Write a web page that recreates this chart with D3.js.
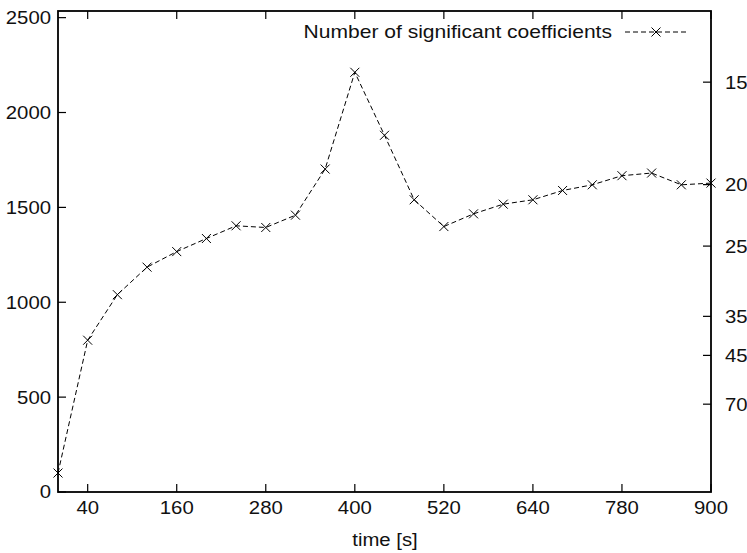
<!DOCTYPE html>
<html>
<head>
<meta charset="utf-8">
<script src="https://cdn.jsdelivr.net/npm/d3@7"></script>
<style>
  html, body { margin: 0; padding: 0; background: #fff; }
  svg { display: block; font-family: "Liberation Sans", Arial, Helvetica, sans-serif; }
</style>
</head>
<body>
<svg id="chart" width="747" height="553"></svg>
<script>
// ---- data ----
const times = [0, 40, 80, 120, 160, 200, 240, 280, 320, 360, 400, 440, 480, 520, 560, 600, 640, 680, 720, 760, 800, 840, 880];
const values = [100, 800, 1040, 1185, 1267, 1336, 1403, 1394, 1459, 1702, 2212, 1880, 1540, 1399, 1466, 1517, 1540, 1589, 1619, 1667, 1681, 1619, 1628];
const xTickValues = [40, 160, 280, 400, 520, 640, 760, 880];
const xTickLabels = ["40", "160", "280", "400", "520", "640", "780", "900"];
const yTickValues = [0, 500, 1000, 1500, 2000, 2500];
const rightTickLabels = [15, 20, 25, 35, 45, 70];
const rightK = 32400; // right axis label = rightK / left value
const seriesName = "Number of significant coefficients";
const xTitle = "time [s]";

(function () {
// ---- layout ----
const mLeft = 58, mRight = 711, mTop = 11, mBottom = 492;
const svg = d3.select("#chart");

const x = d3.scaleLinear().domain([0, 880]).range([mLeft, mRight]);
const y = d3.scaleLinear().domain([0, 2535]).range([mBottom, mTop]);

const fs = 18;
const sx = 1.13;
const tickLen = 8;

function addText(g, px, py, str, anchor, dy, scale) {
  return g.append("text")
    .attr("transform", `translate(${px},${py}) scale(${scale || sx},1)`)
    .attr("x", 0).attr("y", 0).attr("dy", dy || 0)
    .attr("text-anchor", anchor).attr("font-size", fs).attr("fill", "#111")
    .text(str);
}

// frame
svg.append("rect")
  .attr("x", mLeft).attr("y", mTop)
  .attr("width", mRight - mLeft).attr("height", mBottom - mTop)
  .attr("fill", "none").attr("stroke", "#000").attr("stroke-width", 1.8);

// bottom axis ticks (inward) + mirrored top
const xg = svg.append("g");
xTickValues.forEach((t, i) => {
  const px = x(t);
  xg.append("line").attr("x1", px).attr("x2", px).attr("y1", mBottom).attr("y2", mBottom - tickLen)
    .attr("stroke", "#000").attr("stroke-width", 1.2);
  xg.append("line").attr("x1", px).attr("x2", px).attr("y1", mTop).attr("y2", mTop + tickLen)
    .attr("stroke", "#000").attr("stroke-width", 1.2);
  addText(xg, px, mBottom + 22, xTickLabels[i], "middle");
});

// left axis
const yg = svg.append("g");
yTickValues.forEach(v => {
  const py = y(v);
  yg.append("line").attr("x1", mLeft).attr("x2", mLeft + tickLen).attr("y1", py).attr("y2", py)
    .attr("stroke", "#000").attr("stroke-width", 1.2);
  addText(yg, mLeft - 7, py, String(v), "end", "0.36em");
});

// right axis (reciprocal labels)
const rg = svg.append("g");
rightTickLabels.forEach(v => {
  const py = y(rightK / v);
  rg.append("line").attr("x1", mRight).attr("x2", mRight - tickLen).attr("y1", py).attr("y2", py)
    .attr("stroke", "#000").attr("stroke-width", 1.2);
  addText(rg, mRight + 14, py, String(v), "start", "0.36em");
});

// x title
addText(svg, 385, 546, xTitle, "middle");

// series
const line = d3.line().x((d, i) => x(times[i])).y(d => y(d));
svg.append("path").datum(values)
  .attr("d", line).attr("fill", "none").attr("stroke", "#000")
  .attr("stroke-width", 1).attr("stroke-dasharray", "5,3");

const ms = 4.5;
const crossPath = `M${-ms},${-ms}L${ms},${ms}M${-ms},${ms}L${ms},${-ms}`;
svg.append("g").selectAll("path").data(values).join("path")
  .attr("transform", (d, i) => `translate(${x(times[i])},${y(d)})`)
  .attr("d", crossPath).attr("stroke", "#000").attr("stroke-width", 1).attr("fill", "none");

// legend
const lg = svg.append("g");
addText(lg, 612, 38, seriesName, "end", 0, 1.17);
lg.append("line").attr("x1", 625).attr("x2", 687).attr("y1", 32).attr("y2", 32)
  .attr("stroke", "#000").attr("stroke-width", 1).attr("stroke-dasharray", "5,3");
lg.append("path").attr("transform", "translate(656,32)").attr("d", crossPath)
  .attr("stroke", "#000").attr("stroke-width", 1).attr("fill", "none");
})();
</script>
</body>
</html>
